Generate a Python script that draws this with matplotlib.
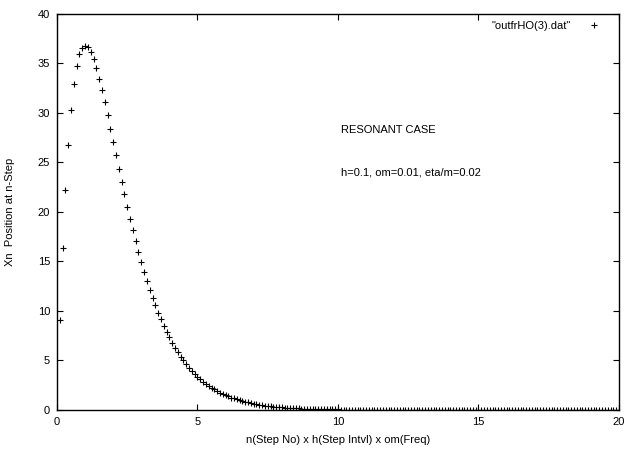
import numpy as np
import matplotlib
matplotlib.use("Agg")
import matplotlib.pyplot as plt

plt.rcParams['font.family'] = ['Liberation Sans', 'DejaVu Sans']

# step values (x = n*h*om, steps of 0.1 from 0.1 to 20)
xn_head = [
    9.05, 16.37, 22.22, 26.81, 30.33, 32.93, 34.76, 35.95, 36.59, 36.79,
    36.62, 36.14, 35.43, 34.52, 33.47, 32.30, 31.06, 29.75, 28.41, 27.07,
    25.72, 24.38, 23.06, 21.77, 20.52, 19.31, 18.15, 17.03, 15.97, 14.94,
    13.97, 13.04, 12.16, 11.33, 10.57, 9.84, 9.15, 8.50, 7.90, 7.33,
    6.79, 6.29, 5.83, 5.39, 5.00, 4.62, 4.27, 3.95, 3.64, 3.37,
    3.11, 2.87, 2.65, 2.44, 2.25, 2.07, 1.91, 1.76, 1.62, 1.49,
    1.37, 1.26, 1.16, 1.06, 0.98, 0.90, 0.82, 0.76, 0.70, 0.64,
    0.59, 0.54, 0.49, 0.45, 0.41, 0.38, 0.35, 0.32, 0.29, 0.27,
    0.25, 0.23, 0.21, 0.19, 0.17, 0.16, 0.14, 0.13, 0.12, 0.11,
    0.10, 0.09, 0.08, 0.08, 0.07, 0.06, 0.06, 0.05, 0.05, 0.05,
]
xn_tail = [
    0.04, 0.04, 0.04, 0.03, 0.03, 0.03, 0.03, 0.02, 0.02, 0.02,
    0.02, 0.02, 0.01, 0.01, 0.01, 0.01, 0.01, 0.01, 0.01, 0.01,
    0.01, 0.0, 0.0, 0.0, 0.0, 0.0, 0.0, 0.0, 0.0, 0.0,
    0.0, 0.0, 0.0, 0.0, 0.0, 0.0, 0.0, 0.0, 0.0, 0.0,
    0.0, 0.0, 0.0, 0.0, 0.0, 0.0, 0.0, 0.0, 0.0, 0.0,
    0.0, 0.0, 0.0, 0.0, 0.0, 0.0, 0.0, 0.0, 0.0, 0.0,
    0.0, 0.0, 0.0, 0.0, 0.0, 0.0, 0.0, 0.0, 0.0, 0.0,
    0.0, 0.0, 0.0, 0.0, 0.0, 0.0, 0.0, 0.0, 0.0, 0.0,
    0.0, 0.0, 0.0, 0.0, 0.0, 0.0, 0.0, 0.0, 0.0, 0.0,
    0.0, 0.0, 0.0, 0.0, 0.0, 0.0, 0.0, 0.0, 0.0, 0.0,
]
xn = xn_head + xn_tail
steps = np.arange(1, len(xn) + 1) * 0.1

xticks = [0, 5, 10, 15, 20]
yticks = [0, 5, 10, 15, 20, 25, 30, 35, 40]

fig = plt.figure(figsize=(6.36, 4.49), dpi=100)
ax = fig.add_axes([0.0896, 0.0869, 0.8836, 0.8821])

ax.plot(steps, xn, '+', color='black', markersize=5, markeredgewidth=0.8,
        label='"outfrHO(3).dat"')

ax.set_xlim(0, 20)
ax.set_ylim(0, 40)
ax.set_xticks(xticks)
ax.set_yticks(yticks)
ax.tick_params(direction='in', top=True, right=True, labelsize=8, length=4,
               width=0.8, pad=5)
for s in ax.spines.values():
    s.set_linewidth(1.0)

ax.set_xlabel('n(Step No) x h(Step Intvl) x om(Freq)', fontsize=8, labelpad=6)
ax.set_ylabel('Xn  Position at n-Step', fontsize=8, labelpad=16)

ax.text(10.1, 28.3, 'RESONANT CASE', fontsize=8, va='center', ha='left')
ax.text(10.1, 24.0, 'h=0.1, om=0.01, eta/m=0.02', fontsize=8, va='center', ha='left')

ax.legend(loc='upper right', frameon=False, markerfirst=False, fontsize=8,
          handlelength=3.3, handletextpad=0.4, borderaxespad=0.2)

fig.savefig('out.png', dpi=100)
